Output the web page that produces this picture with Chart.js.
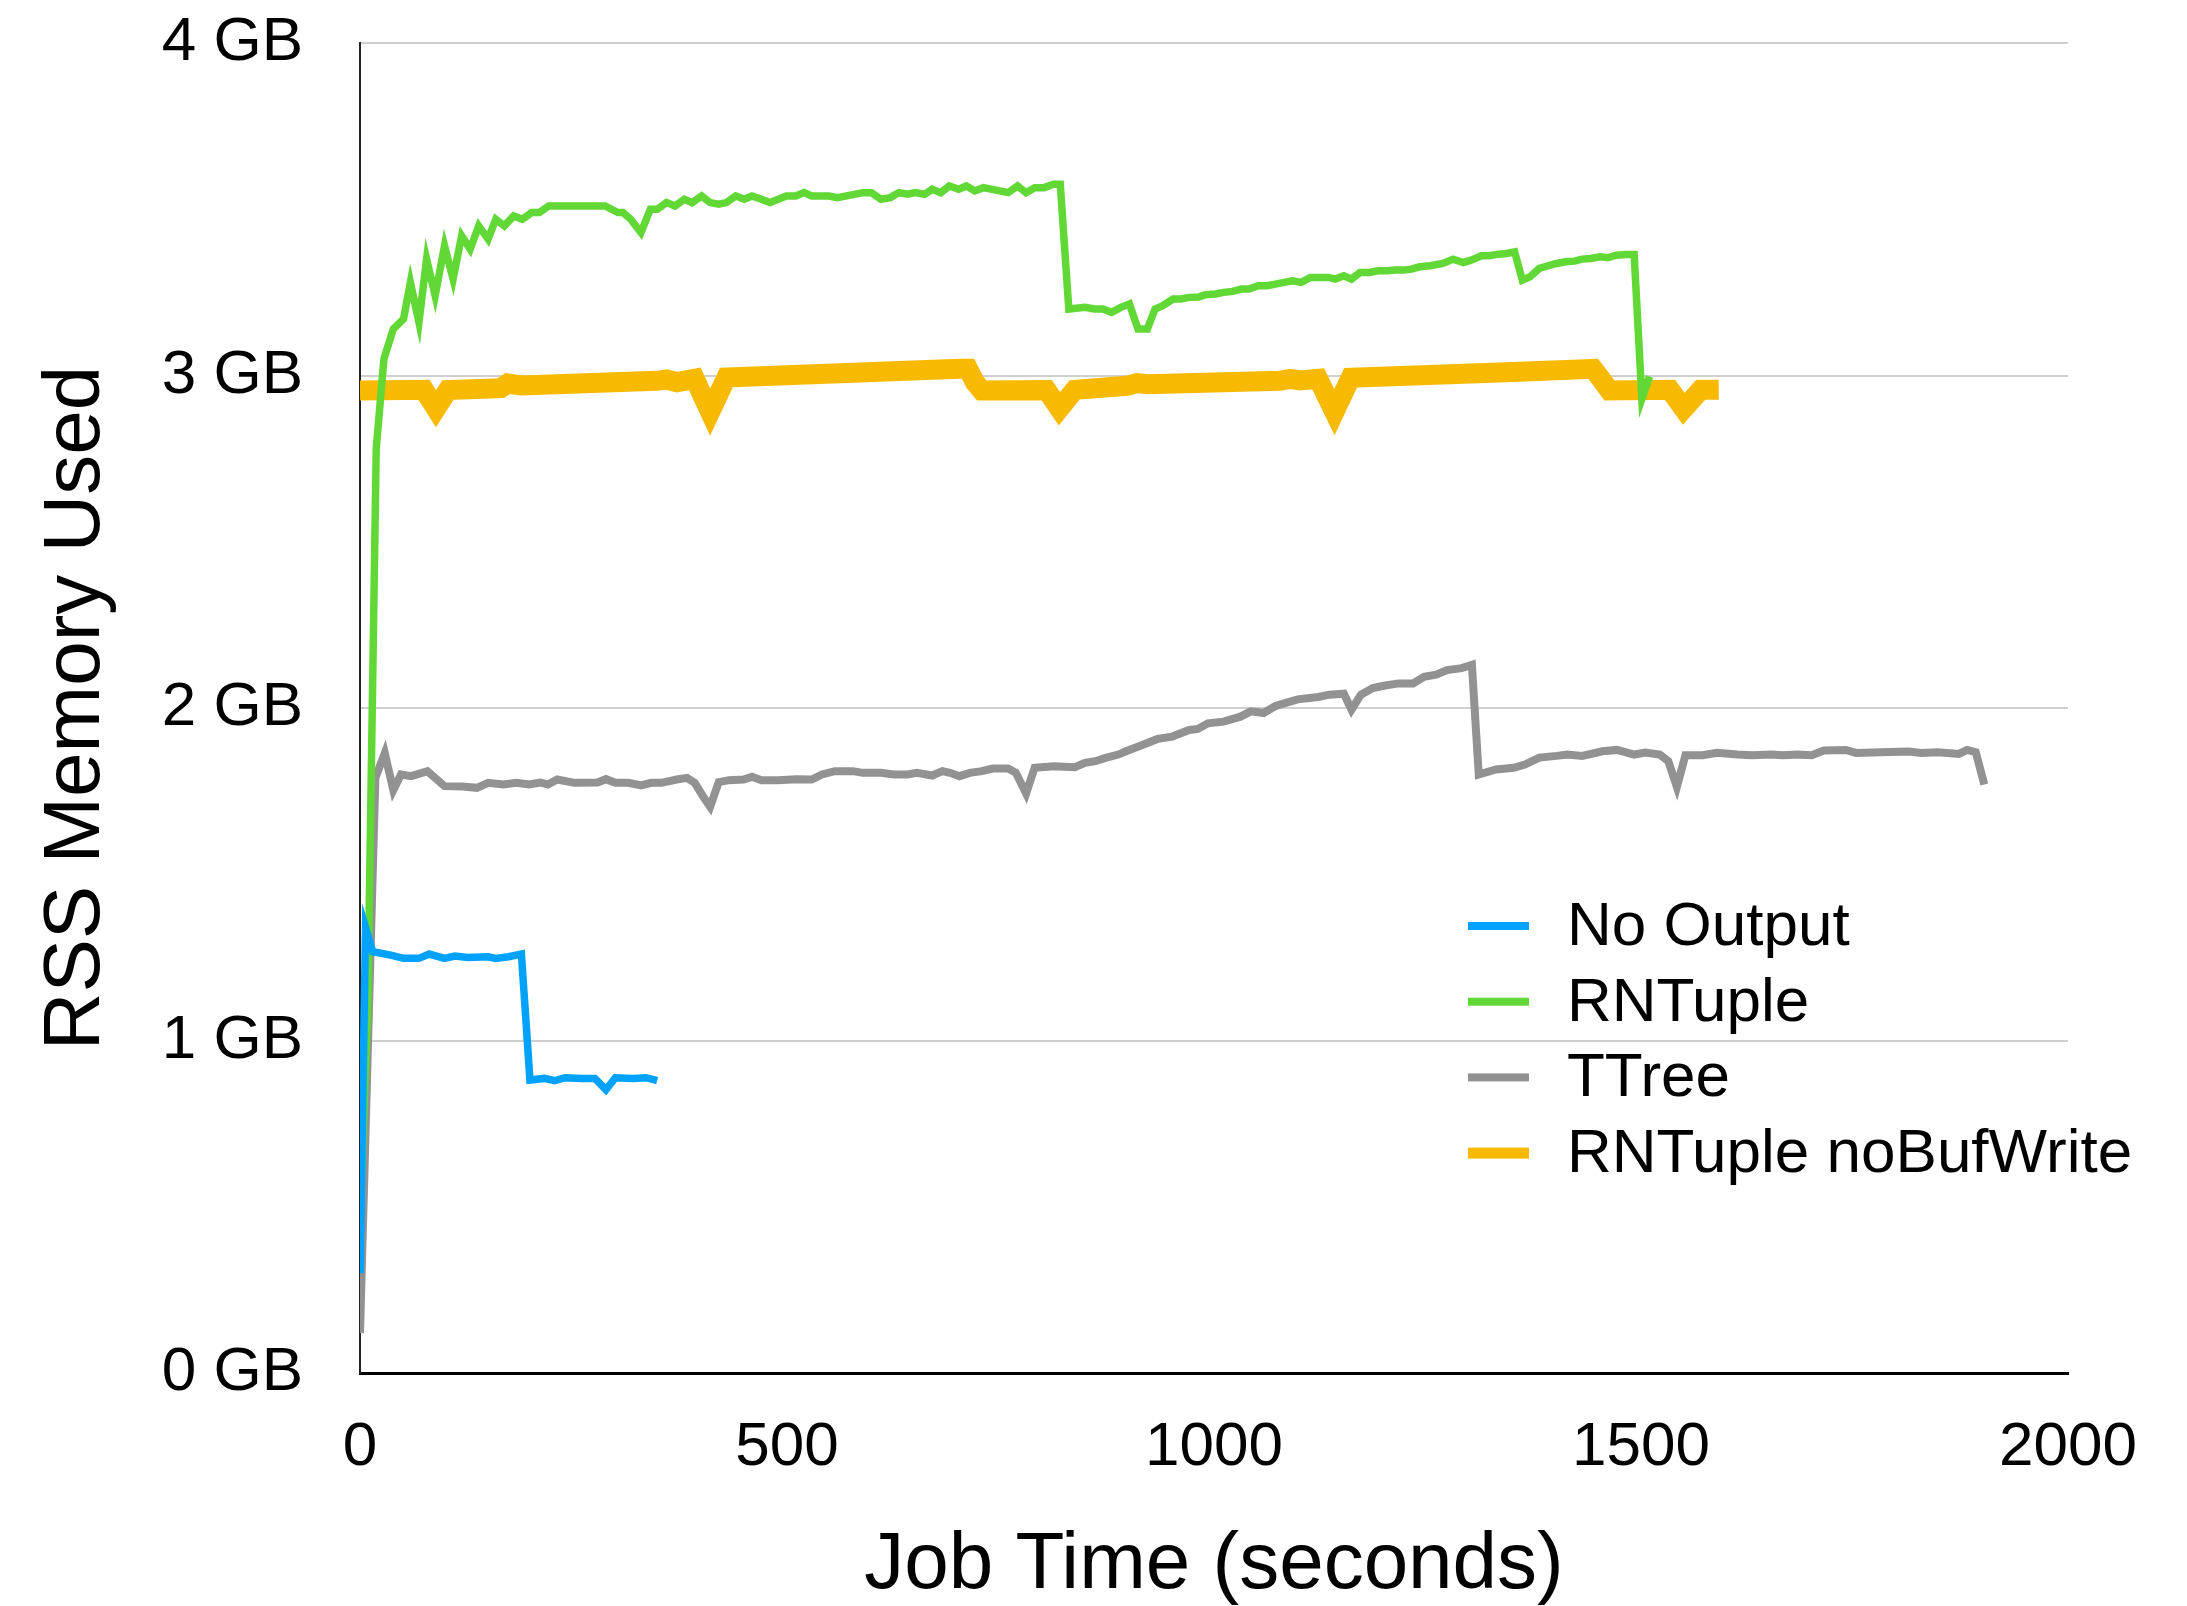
<!DOCTYPE html>
<html>
<head>
<meta charset="utf-8">
<style>
  html, body { margin: 0; padding: 0; background: #fff; }
  #wrap { width: 2187px; height: 1606px; }
</style>
<script src="https://cdn.jsdelivr.net/npm/chart.js@4/dist/chart.umd.min.js"></script>
</head>
<body>
<div id="wrap"><canvas id="c" width="2187" height="1606"></canvas></div>
<script>
// ---------- DATA ----------
const seriesNames = ['No Output', 'RNTuple', 'TTree', 'RNTuple noBufWrite'];
const yTickLabels = ['0 GB', '1 GB', '2 GB', '3 GB', '4 GB'];
const xTickValues = [0, 500, 1000, 1500, 2000];

const noOutputTime = [0, 6.5, 15, 36, 51, 69, 81, 99, 111, 126,
  150, 159, 174, 189, 199, 216, 228, 240, 260, 275,
  288, 299, 320, 335, 348];
const noOutputGB = [0.30, 1.34, 1.267, 1.257, 1.247, 1.247, 1.26, 1.247, 1.254, 1.25,
  1.252, 1.247, 1.252, 1.26, 0.881, 0.886, 0.879, 0.888, 0.886, 0.886,
  0.852, 0.888, 0.886, 0.888, 0.879];

const rntupleTime = [0, 9, 19, 28, 39, 51, 59, 69, 78, 88,
  99, 109, 119, 129, 139, 150, 159, 169, 180, 190,
  201, 210, 221, 287, 302, 308, 317, 329, 340, 348,
  359, 369, 380, 389, 400, 410, 420, 429, 440, 450,
  459, 470, 480, 490, 499, 510, 520, 529, 549, 559,
  589, 599, 610, 621, 631, 641, 650, 661, 670, 680,
  690, 701, 710, 720, 730, 759, 770, 780, 790, 801,
  812, 820, 830, 849, 860, 870, 880, 891, 901, 911,
  922, 931, 940, 952, 961, 971, 982, 990, 1002, 1011,
  1022, 1032, 1041, 1052, 1062, 1072, 1082, 1092, 1102, 1113,
  1124, 1134, 1142, 1152, 1161, 1171, 1182, 1192, 1203, 1212,
  1222, 1231, 1241, 1253, 1268, 1280, 1292, 1301, 1313, 1322,
  1333, 1343, 1352, 1361, 1370, 1381, 1391, 1401, 1412, 1422,
  1431, 1441, 1452, 1461, 1471, 1482, 1492, 1501, 1510];
const rntupleGB = [0.47, 1.1, 2.78, 3.05, 3.14, 3.17, 3.28, 3.16, 3.35, 3.24,
  3.39, 3.29, 3.42, 3.38, 3.45, 3.41, 3.47, 3.45, 3.48, 3.47,
  3.49, 3.49, 3.51, 3.51, 3.49, 3.49, 3.47, 3.43, 3.50, 3.50,
  3.52, 3.51, 3.53, 3.52, 3.54, 3.52, 3.515, 3.52, 3.54, 3.53,
  3.54, 3.53, 3.52, 3.53, 3.54, 3.54, 3.55, 3.54, 3.54, 3.535,
  3.55, 3.55, 3.53, 3.535, 3.55, 3.545, 3.55, 3.545, 3.56, 3.55,
  3.57, 3.56, 3.57, 3.555, 3.565, 3.55, 3.57, 3.55, 3.565, 3.565,
  3.575, 3.575, 3.20, 3.205, 3.20, 3.20, 3.19, 3.205, 3.215, 3.14,
  3.14, 3.20, 3.21, 3.23, 3.23, 3.235, 3.236, 3.243, 3.245, 3.25,
  3.253, 3.26, 3.26, 3.27, 3.27, 3.275, 3.28, 3.285, 3.28, 3.295,
  3.295, 3.295, 3.29, 3.30, 3.29, 3.31, 3.31, 3.315, 3.315, 3.317,
  3.317, 3.32, 3.327, 3.33, 3.337, 3.35, 3.34, 3.347, 3.36, 3.36,
  3.365, 3.367, 3.372, 3.287, 3.297, 3.322, 3.33, 3.337, 3.342, 3.344,
  3.35, 3.352, 3.357, 3.354, 3.362, 3.364, 3.364, 2.93, 2.997];

const ttreeTime = [0, 18, 29, 39, 48, 60, 79, 99, 120, 137,
  150, 168, 183, 198, 211, 220, 231, 251, 278, 288,
  299, 314, 329, 341, 353, 371, 383, 392, 402, 410,
  420, 432, 449, 459, 470, 490, 511, 529, 541, 556,
  577, 589, 610, 625, 641, 652, 670, 682, 691, 702,
  714, 728, 741, 759, 768, 780, 790, 813, 837, 849,
  861, 873, 888, 897, 913, 934, 951, 971, 981, 993,
  1011, 1031, 1043, 1058, 1072, 1085, 1098, 1122, 1135, 1152,
  1161, 1172, 1186, 1199, 1216, 1233, 1246, 1260, 1273, 1290,
  1302, 1310, 1330, 1351, 1364, 1381, 1401, 1414, 1431, 1455,
  1472, 1492, 1505, 1522, 1532, 1542, 1552, 1572, 1589, 1613,
  1630, 1653, 1666, 1683, 1700, 1714, 1740, 1752, 1781, 1814,
  1828, 1848, 1872, 1882, 1892, 1902];
const ttreeGB = [0.12, 1.79, 1.864, 1.753, 1.80, 1.795, 1.81, 1.765, 1.764, 1.76,
  1.775, 1.77, 1.775, 1.77, 1.776, 1.77, 1.785, 1.775, 1.776, 1.786,
  1.775, 1.775, 1.767, 1.775, 1.775, 1.785, 1.79, 1.775, 1.733, 1.703,
  1.777, 1.783, 1.785, 1.793, 1.783, 1.783, 1.786, 1.785, 1.80, 1.81,
  1.81, 1.805, 1.805, 1.80, 1.80, 1.805, 1.797, 1.81, 1.805, 1.795,
  1.805, 1.81, 1.818, 1.818, 1.805, 1.743, 1.82, 1.825, 1.822, 1.835,
  1.84, 1.85, 1.86, 1.87, 1.886, 1.907, 1.914, 1.934, 1.937, 1.954,
  1.959, 1.974, 1.99, 1.985, 2.006, 2.016, 2.026, 2.033, 2.04, 2.043,
  1.995, 2.04, 2.06, 2.067, 2.074, 2.074, 2.094, 2.10, 2.114, 2.12,
  2.13, 1.80, 1.815, 1.82, 1.83, 1.851, 1.856, 1.86, 1.856, 1.87,
  1.874, 1.86, 1.866, 1.86, 1.84, 1.763, 1.858, 1.858, 1.865, 1.86,
  1.858, 1.86, 1.858, 1.86, 1.858, 1.872, 1.874, 1.865, 1.867, 1.869,
  1.865, 1.867, 1.862, 1.874, 1.867, 1.77];

const noBufTime = [0, 75, 89, 103, 165, 173, 189, 347, 359, 371,
  392, 410, 429, 702, 712, 720, 728, 804, 819, 837,
  898, 910, 922, 1077, 1089, 1101, 1122, 1141, 1160, 1358,
  1444, 1453, 1463, 1534, 1550, 1570, 1591];
const noBufGB = [2.955, 2.957, 2.90, 2.956, 2.962, 2.976, 2.97, 2.984, 2.988, 2.98,
  2.99, 2.89, 2.994, 3.02, 3.02, 2.98, 2.955, 2.956, 2.90, 2.957,
  2.969, 2.977, 2.974, 2.984, 2.99, 2.985, 2.99, 2.89, 2.993, 3.011,
  3.02, 2.99, 2.955, 2.957, 2.90, 2.957, 2.957];

// ---------- BUILD ----------
function pts(ts, vs) {
  const n = Math.min(ts.length, vs.length);
  const out = [];
  for (let i = 0; i < n; i++) out.push({ x: ts[i], y: vs[i] });
  return out;
}

const FONT = '"Liberation Sans", Arial, Helvetica, sans-serif';
const colors = ['#00A2FF', '#61D836', '#929292', '#F8BA00'];
const widths = [7.5, 7.5, 8, 20];
const legendThick = [8, 8, 8, 11];

const datasets = [
  { label: seriesNames[0], data: pts(noOutputTime, noOutputGB) },
  { label: seriesNames[1], data: pts(rntupleTime, rntupleGB) },
  { label: seriesNames[2], data: pts(ttreeTime, ttreeGB) },
  { label: seriesNames[3], data: pts(noBufTime, noBufGB) }
].map((d, i) => Object.assign(d, {
  borderColor: colors[i],
  backgroundColor: colors[i],
  borderWidth: widths[i],
  pointRadius: 0,
  pointHoverRadius: 0,
  tension: 0,
  fill: false,
  borderJoinStyle: 'miter',
  borderCapStyle: 'butt',
  legendThickness: legendThick[i]
}));

const insideLegend = {
  id: 'insideLegend',
  afterDraw(chart) {
    const ctx = chart.ctx;
    ctx.save();
    ctx.font = '62px ' + FONT;
    ctx.textBaseline = 'middle';
    ctx.textAlign = 'left';
    chart.data.datasets.forEach((ds, i) => {
      const y = 926 + i * 75.7;
      const h = ds.legendThickness;
      ctx.fillStyle = ds.borderColor;
      ctx.fillRect(1468, y - h / 2, 61, h);
      ctx.fillStyle = '#000';
      ctx.fillText(ds.label, 1567, y + 2);
    });
    ctx.restore();
  }
};

new Chart(document.getElementById('c'), {
  type: 'line',
  data: { datasets },
  plugins: [insideLegend],
  options: {
    responsive: false,
    animation: false,
    devicePixelRatio: 1,
    layout: { padding: { top: 43, right: 119, bottom: 0, left: 0 } },
    plugins: {
      legend: { display: false },
      tooltip: { enabled: false },
      title: { display: false }
    },
    scales: {
      x: {
        type: 'linear',
        min: 0,
        max: 2000,
        afterFit: (s) => { s.height = 233; s.paddingLeft = 0; s.paddingRight = 0; },
        afterBuildTicks: (s) => { s.ticks = xTickValues.map(v => ({ value: v })); },
        ticks: {
          color: '#000',
          font: { family: FONT, size: 62 },
          padding: 38,
          maxRotation: 0,
          callback: (v) => String(v)
        },
        grid: { display: false, drawTicks: false },
        border: { display: true, color: '#000', width: 3 },
        title: {
          display: true,
          text: 'Job Time (seconds)',
          color: '#000',
          font: { family: FONT, size: 80, lineHeight: 1 },
          padding: { top: 0, bottom: 0 }
        }
      },
      y: {
        type: 'linear',
        min: 0,
        max: 4,
        afterFit: (s) => { s.width = 360; s.paddingTop = 0; s.paddingBottom = 0; },
        afterBuildTicks: (s) => { s.ticks = yTickLabels.map((t, i) => ({ value: i })); },
        ticks: {
          color: '#000',
          font: { family: FONT, size: 62 },
          padding: 57,
          callback: (v) => yTickLabels[Math.round(v)]
        },
        grid: {
          drawTicks: false,
          lineWidth: 2,
          color: (c) => (c.tick && c.tick.value === 0) ? 'rgba(0,0,0,0)' : '#cfcfcf'
        },
        border: { display: true, color: '#222', width: 2 },
        title: {
          display: true,
          text: 'RSS Memory Used',
          color: '#000',
          font: { family: FONT, size: 80, lineHeight: 1 },
          padding: { top: 37, bottom: 0 }
        }
      }
    }
  }
});
</script>
</body>
</html>
